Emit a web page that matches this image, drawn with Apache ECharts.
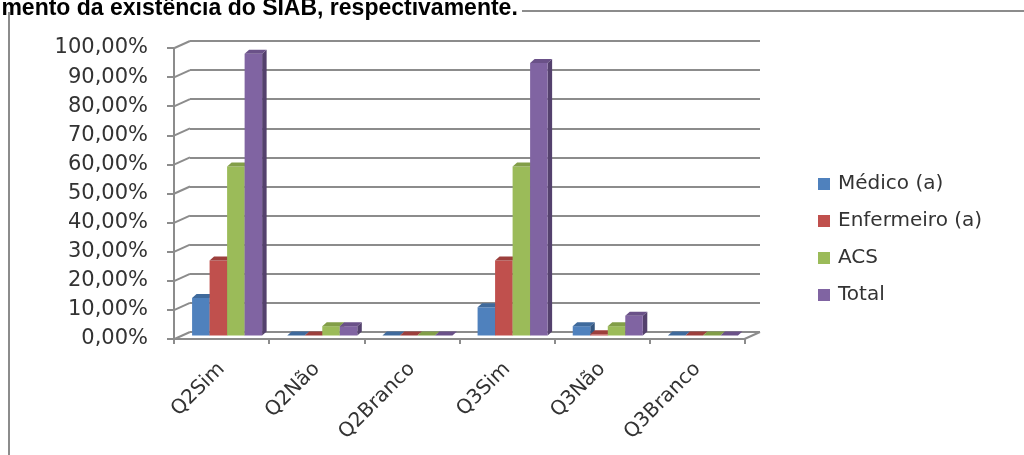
<!DOCTYPE html>
<html>
<head>
<meta charset="utf-8">
<script src="https://cdn.jsdelivr.net/npm/echarts@6/dist/echarts.min.js"></script>
<style>
html,body{margin:0;padding:0;background:#fff;}
#chart{width:1024px;height:455px;}
</style>
</head>
<body>
<div id="chart"></div>
<script>
// ---- data ----
const categories = ['Q2Sim', 'Q2Não', 'Q2Branco', 'Q3Sim', 'Q3Não', 'Q3Branco'];
const seriesNames = ['Médico (a)', 'Enfermeiro (a)', 'ACS', 'Total'];
const medico     = [0.129, 0.000, 0.000, 0.097, 0.032, 0.000];
const enfermeiro = [0.258, 0.000, 0.000, 0.258, 0.004, 0.000];
const acs        = [0.581, 0.032, 0.000, 0.581, 0.032, 0.000];
const total      = [0.968, 0.032, 0.000, 0.936, 0.068, 0.000];
const yTickValues = [0, 0.1, 0.2, 0.3, 0.4, 0.5, 0.6, 0.7, 0.8, 0.9, 1.0];
const headingText = 'imento da existência do SIAB, respectivamente.';

// ---- styles ----
const FONT = 'DejaVu Sans';
const fronts = ['#4F81BD', '#C0504D', '#9BBB59', '#8064A2'];
const sides  = ['#34567f', '#823432', '#6a8239', '#54416d'];
const tops   = ['#3f6a9c', '#9c3f3c', '#829e48', '#6a5188'];
const GRAY = '#8c8c8c';
const DEPTH_DX = 15.5, DEPTH_DY = 7;   // front -> back wall offset
const BAR_DY = -3.5;                   // bars sit mid-depth
const SIDE_DX = 4.5, SIDE_DY = 4;

const valueSets = [medico, enfermeiro, acs, total];

function barRenderer(s) {
  return function (params, api) {
    const ci = api.value(0), v = api.value(1);
    const base = api.coord([ci, 0]);
    const top = api.coord([ci, v]);
    const band = api.size([1, 0])[0];
    const bw = band * 0.184;
    const x0 = base[0] - band / 2 + band * 0.19 + s * bw;
    const yb = base[1] + BAR_DY;
    const yt = Math.min(top[1] + BAR_DY, yb);
    const x1 = x0 + bw;
    const children = [];
    if (yb - yt > 0.3) {
      children.push({
        type: 'polygon',
        shape: { points: [[x1, yt], [x1 + SIDE_DX, yt - SIDE_DY], [x1 + SIDE_DX, yb - SIDE_DY], [x1, yb]] },
        style: { fill: sides[s] }
      });
      children.push({
        type: 'rect',
        shape: { x: x0, y: yt, width: bw, height: yb - yt },
        style: { fill: fronts[s] }
      });
    }
    children.push({
      type: 'polygon',
      shape: { points: [[x0, yt], [x0 + SIDE_DX, yt - SIDE_DY], [x1 + SIDE_DX, yt - SIDE_DY], [x1, yt]] },
      style: { fill: tops[s] }
    });
    return { type: 'group', children: children };
  };
}

const barSeries = valueSets.map((vals, s) => ({
  name: seriesNames[s],
  type: 'custom',
  xAxisIndex: 0,
  yAxisIndex: 0,
  itemStyle: { color: fronts[s] },
  renderItem: barRenderer(s),
  encode: { x: 0, y: 1 },
  data: vals.map((v, i) => [i, v]),
  z: 5
}));

const connectorSeries = {
  type: 'custom',
  xAxisIndex: 1,
  yAxisIndex: 1,
  silent: true,
  renderItem: function (params, api) {
    const v = api.value(1);
    const p = api.coord([0, v]);
    const left = params.coordSys.x;
    const right = params.coordSys.x + params.coordSys.width;
    const children = [{
      type: 'line',
      shape: { x1: left - DEPTH_DX, y1: p[1] + DEPTH_DY, x2: left, y2: p[1] },
      style: { stroke: GRAY, lineWidth: 2 }
    }];
    if (v === 0) {
      children.push({
        type: 'line',
        shape: { x1: right - DEPTH_DX, y1: p[1] + DEPTH_DY, x2: right, y2: p[1] },
        style: { stroke: GRAY, lineWidth: 2 }
      });
    }
    return { type: 'group', children: children };
  },
  data: yTickValues.map(v => [0, v]),
  z: 2
};

function pct(v) {
  return (Math.round(v * 100)).toFixed(2).replace('.', ',') + '%';
}

const chart = echarts.init(document.getElementById('chart'), null, { renderer: 'canvas' });
chart.setOption({
  animation: false,
  backgroundColor: '#ffffff',
  textStyle: { fontFamily: FONT },
  graphic: [
    { type: 'line', shape: { x1: 9, y1: 12, x2: 9, y2: 455 }, style: { stroke: GRAY, lineWidth: 2 } },
    { type: 'line', shape: { x1: 522, y1: 11, x2: 1024, y2: 11 }, style: { stroke: GRAY, lineWidth: 2 } },
    {
      type: 'text', left: -5, top: -3,
      style: { text: headingText, font: 'bold 23px "Liberation Sans", Arial, sans-serif', fill: '#000' }
    }
  ],
  legend: {
    orient: 'vertical',
    left: 813,
    top: 169,
    itemWidth: 12,
    itemHeight: 12,
    itemGap: 17,
    icon: 'rect',
    data: seriesNames,
    textStyle: { fontFamily: FONT, fontSize: 20, color: '#333', padding: [0, 0, 0, 3] }
  },
  grid: [
    { left: 174, right: 279, top: 48, bottom: 116, containLabel: false },
    { left: 190, right: 264, top: 41, bottom: 123, containLabel: false }
  ],
  xAxis: [
    {
      type: 'category', gridIndex: 0, data: categories, boundaryGap: true,
      axisLine: { show: true, lineStyle: { color: GRAY, width: 2 } },
      axisTick: { show: true, length: 5, lineStyle: { color: GRAY, width: 2 } },
      axisLabel: { rotate: 45, fontFamily: FONT, fontSize: 20, color: '#333', margin: 27 },
      splitLine: { show: false }
    },
    {
      type: 'category', gridIndex: 1, data: categories, boundaryGap: true,
      show: false
    }
  ],
  yAxis: [
    {
      type: 'value', gridIndex: 0, min: 0, max: 1, interval: 0.1,
      axisLine: { show: true, lineStyle: { color: GRAY, width: 2 } },
      axisTick: { show: true, length: 7, lineStyle: { color: GRAY, width: 2 } },
      axisLabel: { fontFamily: FONT, fontSize: 21, color: '#333', margin: 26, formatter: pct },
      splitLine: { show: false }
    },
    {
      type: 'value', gridIndex: 1, min: 0, max: 1, interval: 0.1,
      axisLine: { show: false }, axisTick: { show: false }, axisLabel: { show: false },
      splitLine: { show: true, lineStyle: { color: GRAY, width: 2 } }
    }
  ],
  series: [connectorSeries].concat(barSeries)
});
</script>
</body>
</html>
